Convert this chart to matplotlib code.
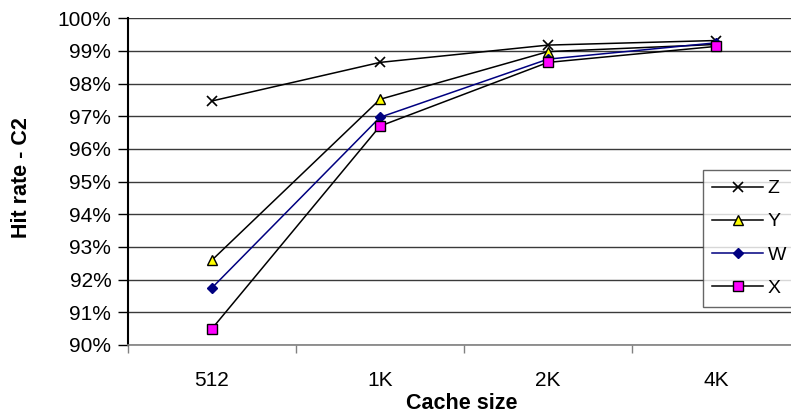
import matplotlib
matplotlib.use("Agg")
import matplotlib.pyplot as plt
from matplotlib.ticker import FixedLocator, PercentFormatter

# -----------------------------
# Data (hit rate in %)
# -----------------------------
cache_sizes = ["512", "1K", "2K", "4K"]

hit_z = [97.47, 98.65, 99.18, 99.32]
hit_y = [92.6, 97.52, 98.98, 99.2]
hit_w = [91.75, 96.97, 98.75, 99.25]
hit_x = [90.5, 96.7, 98.65, 99.14]

series_names = ["Z", "Y", "W", "X"]

plt.rcParams["font.family"] = ["Liberation Sans", "DejaVu Sans"]

W_PX, H_PX, DPI = 791, 419, 100
fig = plt.figure(figsize=(W_PX / DPI, H_PX / DPI), dpi=DPI)

# plot area runs past the right edge of the picture, like the original
left, right, top, bottom = 128, 800, 18.3, 345
ax = fig.add_axes([left / W_PX, 1 - bottom / H_PX,
                   (right - left) / W_PX, (bottom - top) / H_PX])

xs = range(len(cache_sizes))

ax.plot(xs, hit_z, color="black", lw=1.1, marker="x", ms=7, mew=1.2,
        label=series_names[0], zorder=3)
ax.plot(xs, hit_y, color="black", lw=1.1, marker="^", ms=7.5, mfc="#FFFF00",
        mec="black", mew=1.0, label=series_names[1], zorder=3)
ax.plot(xs, hit_w, color="#000080", lw=1.1, marker="D", ms=5.5, mfc="#000080",
        mec="#000080", label=series_names[2], zorder=3)
ax.plot(xs, hit_x, color="black", lw=1.1, marker="s", ms=6.5, mfc="#FF00FF",
        mec="black", mew=1.0, label=series_names[3], zorder=3)

ax.set_xlim(-0.5, len(cache_sizes) - 0.5)
ax.set_ylim(90, 100)

# y axis: percent ticks every 1%
ax.yaxis.set_major_locator(FixedLocator(range(90, 101)))
ax.yaxis.set_major_formatter(PercentFormatter(decimals=0))
ax.yaxis.grid(True, color="#3a3a3a", lw=1.0)
ax.set_axisbelow(True)

# x axis: labels at category centres, tick marks between categories
ax.set_xticks(list(xs))
ax.set_xticklabels(cache_sizes)
ax.set_xticks([i - 0.5 for i in range(len(cache_sizes) + 1)], minor=True)
ax.tick_params(axis="x", which="major", length=0, pad=19, labelsize=15)
ax.tick_params(axis="x", which="minor", length=6, width=1, color="#808080")
ax.tick_params(axis="y", length=7, width=1, pad=5, labelsize=15,
               direction="out")

for s in ["top", "right"]:
    ax.spines[s].set_visible(False)
ax.spines["left"].set_linewidth(1.5)
ax.spines["left"].set_color("black")
ax.spines["bottom"].set_color("#808080")
ax.spines["bottom"].set_linewidth(1.2)

fig.text(462 / W_PX, 1 - 403 / H_PX, "Cache size", ha="center", va="center",
         fontsize=15.5, fontweight="bold")
fig.text(22 / W_PX, 1 - 178 / H_PX, "Hit rate - C2", ha="center", va="center",
         rotation=90, fontsize=15.5, fontweight="bold")

leg = fig.legend(loc="upper left", bbox_to_anchor=(702.7 / W_PX, 1 - 170 / H_PX),
                 bbox_transform=fig.transFigure, frameon=True, fancybox=False,
                 fontsize=14, handlelength=2.6, handletextpad=0.25,
                 labelspacing=0.8, borderpad=0.5, borderaxespad=0)
leg.get_frame().set_edgecolor("#404040")
leg.get_frame().set_linewidth(1.0)

fig.savefig("out.png", dpi=DPI)
